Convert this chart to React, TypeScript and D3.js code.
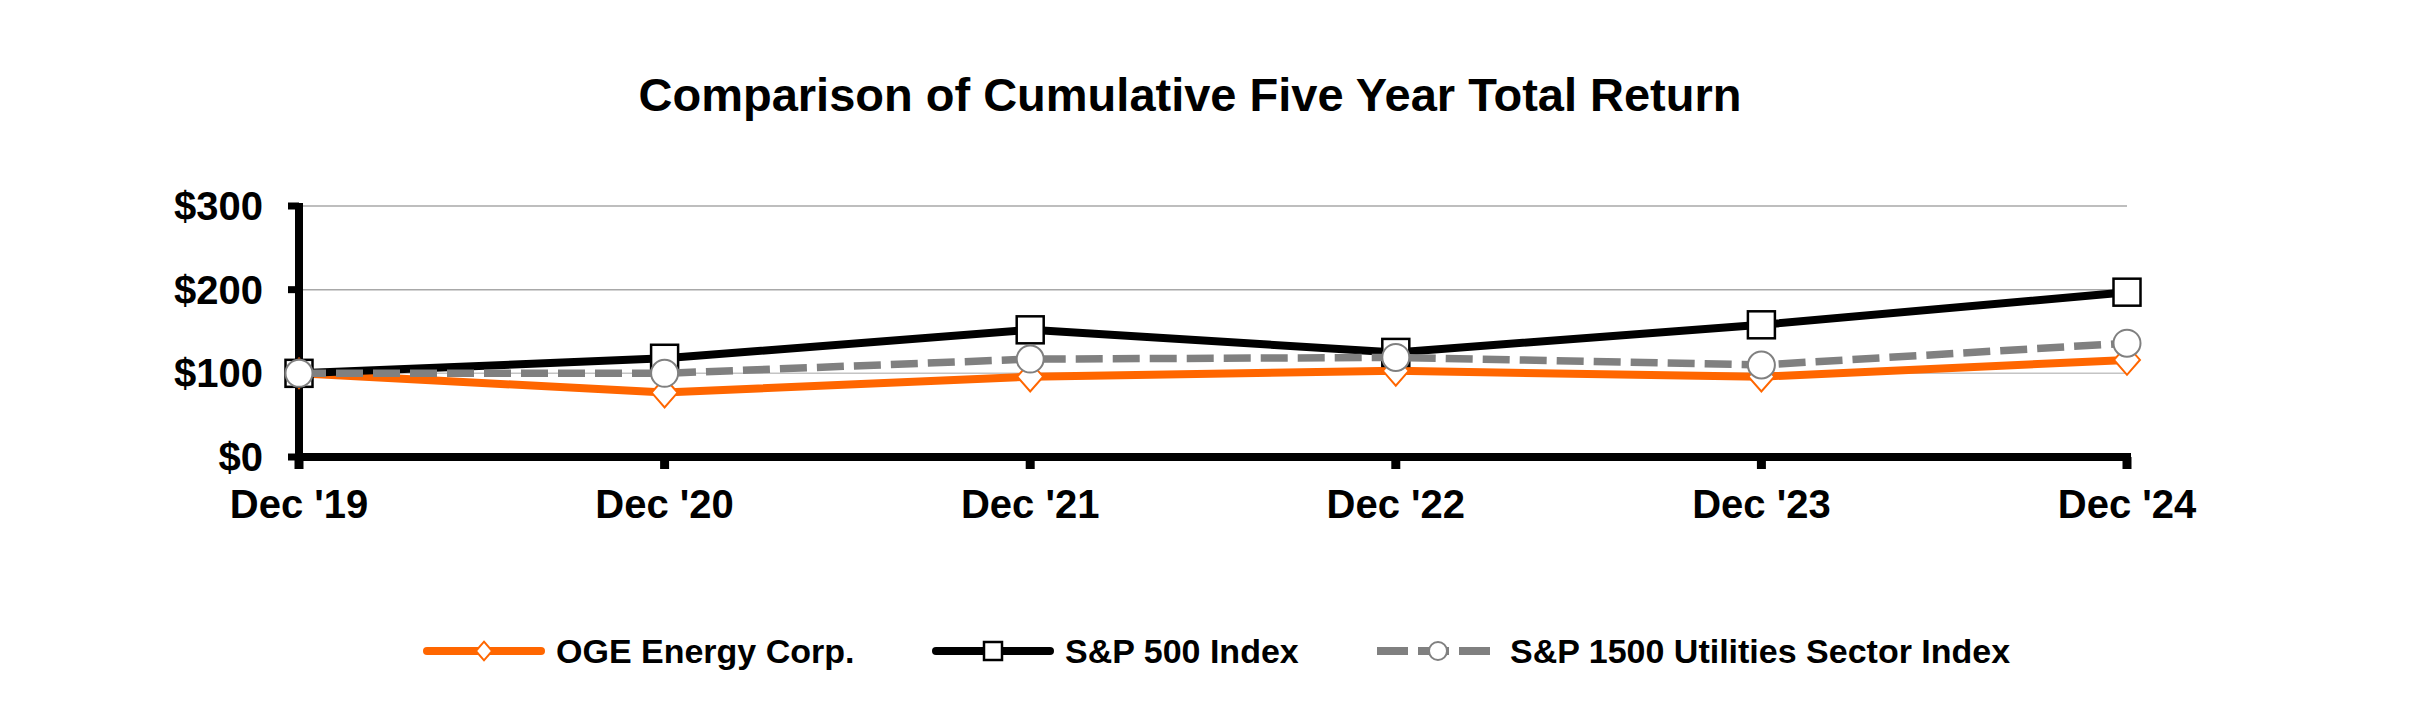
import { useEffect, useRef } from 'react';
import * as d3 from 'd3';

// chart values
const years = ["Dec '19", "Dec '20", "Dec '21", "Dec '22", "Dec '23", "Dec '24"];
const ogeValues = [100, 77, 96, 103, 96, 116];
const sp500Values = [100, 118, 152, 125, 158, 197];
const utilitiesValues = [100, 100, 117, 119, 110, 136];
const yTicks = [0, 100, 200, 300];
const seriesNames = ['OGE Energy Corp.', 'S&P 500 Index', 'S&P 1500 Utilities Sector Index'];

const WIDTH = 2420;
const HEIGHT = 701;
const FONT = '"Liberation Sans", Arial, Helvetica, sans-serif';

const ORANGE = '#ff6600';
const GRAY = '#808080';

type MarkerKind = 'diamond' | 'square' | 'circle';

const App = () => {
  const containerRef = useRef<HTMLDivElement | null>(null);

  useEffect(() => {
    document.body.style.margin = '0';
    if (!containerRef.current) return;
    containerRef.current.innerHTML = '';
    containerRef.current.append(buildChart());
  }, []);

  function drawMarker(
    g: d3.Selection<SVGGElement, unknown, null, undefined>,
    kind: MarkerKind,
    cx: number,
    cy: number,
    size: number,
  ) {
    if (kind === 'diamond') {
      const hw = size * 0.48;
      const hh = size * 0.55;
      g.append('path')
        .attr('d', `M${cx},${cy - hh}L${cx + hw},${cy}L${cx},${cy + hh}L${cx - hw},${cy}Z`)
        .attr('fill', '#fff')
        .attr('stroke', ORANGE)
        .attr('stroke-width', 2);
    } else if (kind === 'square') {
      g.append('rect')
        .attr('x', cx - size / 2)
        .attr('y', cy - size / 2)
        .attr('width', size)
        .attr('height', size)
        .attr('fill', '#fff')
        .attr('stroke', '#000')
        .attr('stroke-width', 2.5);
    } else {
      g.append('circle')
        .attr('cx', cx)
        .attr('cy', cy)
        .attr('r', size / 2)
        .attr('fill', '#fff')
        .attr('stroke', GRAY)
        .attr('stroke-width', 2);
    }
  }

  function buildChart() {
    const xScale = d3.scalePoint<string>().domain(years).range([299, 2127]);
    const yScale = d3.scaleLinear().domain([0, 300]).range([457, 206]);

    const svg = d3
      .create('svg')
      .attr('width', WIDTH)
      .attr('height', HEIGHT)
      .attr('viewBox', [0, 0, WIDTH, HEIGHT])
      .style('display', 'block')
      .style('background', '#fff')
      .attr('font-family', FONT)
      .attr('font-weight', 'bold');

    // title
    svg
      .append('text')
      .attr('x', 1190)
      .attr('y', 111)
      .attr('text-anchor', 'middle')
      .attr('font-size', 47)
      .attr('fill', '#000')
      .text('Comparison of Cumulative Five Year Total Return');

    const x0 = xScale(years[0]) as number;
    const x1 = xScale(years[years.length - 1]) as number;

    // gridlines
    svg
      .append('g')
      .selectAll('line')
      .data(yTicks.filter(t => t > 0))
      .join('line')
      .attr('x1', x0)
      .attr('x2', x1)
      .attr('y1', d => yScale(d))
      .attr('y2', d => yScale(d))
      .attr('stroke', (d, i) => (i === 0 ? '#c4c4c4' : '#a8a8a8'))
      .attr('stroke-width', 1.5);

    // y axis
    const yAxis = svg.append('g');
    yAxis
      .append('line')
      .attr('x1', x0)
      .attr('x2', x0)
      .attr('y1', yScale(300) - 3)
      .attr('y2', yScale(0) + 12)
      .attr('stroke', '#000')
      .attr('stroke-width', 8);
    yAxis
      .selectAll('line.tick')
      .data(yTicks)
      .join('line')
      .attr('class', 'tick')
      .attr('x1', x0 - 11)
      .attr('x2', x0)
      .attr('y1', d => yScale(d))
      .attr('y2', d => yScale(d))
      .attr('stroke', '#000')
      .attr('stroke-width', 7);
    yAxis
      .selectAll('text')
      .data(yTicks)
      .join('text')
      .attr('x', 263)
      .attr('y', d => yScale(d) + 14)
      .attr('text-anchor', 'end')
      .attr('font-size', 40)
      .attr('fill', '#000')
      .text(d => `$${d}`);

    // x axis
    const xAxis = svg.append('g');
    xAxis
      .append('line')
      .attr('x1', x0 - 4)
      .attr('x2', x1 + 4)
      .attr('y1', yScale(0))
      .attr('y2', yScale(0))
      .attr('stroke', '#000')
      .attr('stroke-width', 8);
    xAxis
      .selectAll('line.tick')
      .data(years)
      .join('line')
      .attr('class', 'tick')
      .attr('x1', d => xScale(d) as number)
      .attr('x2', d => xScale(d) as number)
      .attr('y1', yScale(0))
      .attr('y2', yScale(0) + 12)
      .attr('stroke', '#000')
      .attr('stroke-width', 9);
    xAxis
      .selectAll('text')
      .data(years)
      .join('text')
      .attr('x', d => xScale(d) as number)
      .attr('y', 518)
      .attr('text-anchor', 'middle')
      .attr('font-size', 40)
      .attr('fill', '#000')
      .text(d => d);

    const series: { values: number[]; color: string; dash: string | null; marker: MarkerKind }[] = [
      { values: ogeValues, color: ORANGE, dash: null, marker: 'diamond' },
      { values: sp500Values, color: '#000', dash: null, marker: 'square' },
      { values: utilitiesValues, color: GRAY, dash: '27,10', marker: 'circle' },
    ];

    const line = d3
      .line<number>()
      .x((_, i) => xScale(years[i]) as number)
      .y(d => yScale(d));

    series.forEach(s => {
      const g = svg.append('g');
      g.append('path')
        .attr('d', line(s.values))
        .attr('fill', 'none')
        .attr('stroke', s.color)
        .attr('stroke-width', s.dash ? 7.5 : 8)
        .attr('stroke-linejoin', 'round')
        .attr('stroke-dasharray', s.dash);
      s.values.forEach((v, i) => {
        drawMarker(g, s.marker, xScale(years[i]) as number, yScale(v), 27);
      });
    });

    // legend
    const legendY = 651;
    const legendStarts = [423, 932, 1377];
    const legendLineLen = 122;
    series.forEach((s, i) => {
      const g = svg.append('g').attr('transform', `translate(${legendStarts[i]},${legendY})`);
      g.append('line')
        .attr('x1', s.dash ? 0 : 4)
        .attr('x2', s.dash ? legendLineLen : legendLineLen - 4)
        .attr('y1', 0)
        .attr('y2', 0)
        .attr('stroke', s.color)
        .attr('stroke-width', 8)
        .attr('stroke-linecap', s.dash ? 'butt' : 'round')
        .attr('stroke-dasharray', s.dash ? '31,10' : null);
      drawMarker(g, s.marker, legendLineLen / 2, 0, s.marker === 'diamond' ? 17 : 18);
      g.append('text')
        .attr('x', legendLineLen + 11)
        .attr('y', 12)
        .attr('font-size', 34)
        .attr('fill', '#000')
        .text(seriesNames[i]);
    });

    return svg.node() as Node;
  }

  return <div ref={containerRef} />;
};

export default App;
